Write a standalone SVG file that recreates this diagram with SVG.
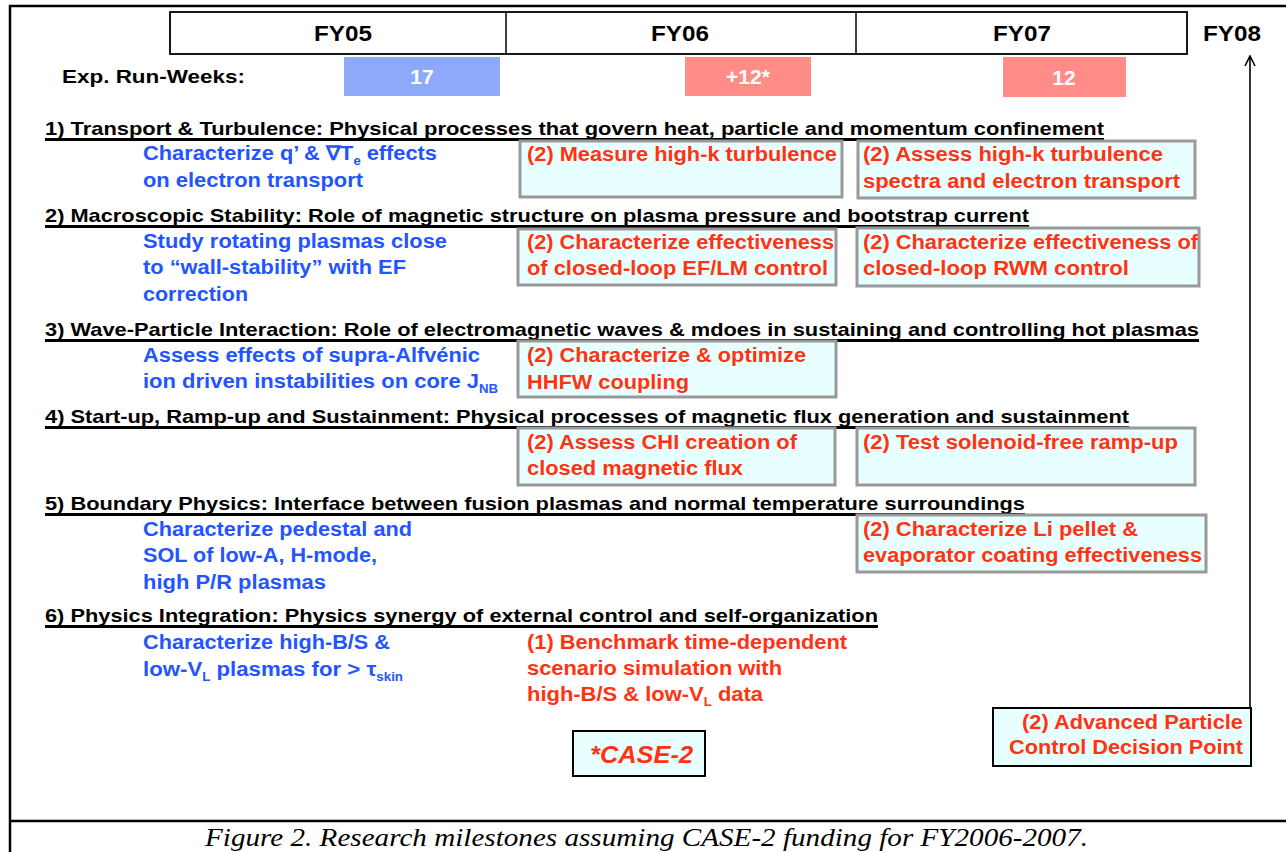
<svg xmlns="http://www.w3.org/2000/svg" width="1286" height="852" viewBox="0 0 1286 852">
<style>
text{font-family:"Liberation Sans",Arial,sans-serif;font-weight:bold}
.hd{font-size:19px;fill:#000}
.bl{font-size:20px;fill:#2255ff}
.rd{font-size:20px;fill:#ff3311}
.ul{stroke:#000;stroke-width:3}
.mb{fill:#e8ffff;stroke:#999;stroke-width:3}
.kb{fill:#e8ffff;stroke:#000;stroke-width:2}
.sub{font-size:12px}
.fy{font-size:22px;fill:#000}
</style>
<defs>
<marker id="arr" viewBox="0 0 12 12" refX="11" refY="6" markerWidth="12" markerHeight="12" markerUnits="userSpaceOnUse" orient="auto">
<path d="M1,1 L11,6 L1,11" fill="none" stroke="#000" stroke-width="1.6"/>
</marker>
</defs>
<rect width="1286" height="852" fill="#fff"/>
<g id="frame" stroke="#000" stroke-width="2.5" fill="none">
<path d="M10,852 V6 H1286"/>
<path d="M10,821 H1286"/>
</g>
<g id="timeline">
<rect x="170" y="12" width="1017" height="42" fill="#fff" stroke="#000" stroke-width="1.8"/>
<line x1="506" y1="12" x2="506" y2="54" stroke="#000" stroke-width="1.5"/>
<line x1="856" y1="12" x2="856" y2="54" stroke="#000" stroke-width="1.5"/>
<text class="fy" x="314" y="41" textLength="58" lengthAdjust="spacingAndGlyphs">FY05</text>
<text class="fy" x="651" y="41" textLength="58" lengthAdjust="spacingAndGlyphs">FY06</text>
<text class="fy" x="993" y="41" textLength="58" lengthAdjust="spacingAndGlyphs">FY07</text>
<text class="fy" x="1203" y="41" textLength="58" lengthAdjust="spacingAndGlyphs">FY08</text>
</g>
<g id="runweeks">
<text x="62" y="83" font-size="19" textLength="183" lengthAdjust="spacingAndGlyphs">Exp. Run-Weeks:</text>
<rect x="344" y="57" width="156" height="39" fill="#8fa9fa"/>
<text x="422" y="84" font-size="21" fill="#fff" text-anchor="middle">17</text>
<rect x="685" y="57" width="126" height="39" fill="#ff8c86"/>
<text x="748" y="84" font-size="21" fill="#fff" text-anchor="middle">+12*</text>
<rect x="1003" y="57" width="123" height="40" fill="#ff8c86"/>
<text x="1064" y="85" font-size="21" fill="#fff" text-anchor="middle">12</text>
</g>
<g id="headers">
<text class="hd" x="45" y="135" textLength="1059" lengthAdjust="spacingAndGlyphs">1) Transport &amp; Turbulence: Physical processes that govern heat, particle and momentum confinement</text>
<line class="ul" x1="45" y1="139.5" x2="1104" y2="139.5"/>
<text class="hd" x="45" y="222" textLength="984" lengthAdjust="spacingAndGlyphs">2) Macroscopic Stability: Role of magnetic structure on plasma pressure and bootstrap current</text>
<line class="ul" x1="45" y1="226.5" x2="1029" y2="226.5"/>
<text class="hd" x="45" y="336" textLength="1154" lengthAdjust="spacingAndGlyphs">3) Wave-Particle Interaction: Role of electromagnetic waves &amp; mdoes in sustaining and controlling hot plasmas</text>
<line class="ul" x1="45" y1="340.5" x2="1199" y2="340.5"/>
<text class="hd" x="45" y="423" textLength="1084" lengthAdjust="spacingAndGlyphs">4) Start-up, Ramp-up and Sustainment: Physical processes of magnetic flux generation and sustainment</text>
<line class="ul" x1="45" y1="427.5" x2="1129" y2="427.5"/>
<text class="hd" x="45" y="510" textLength="980" lengthAdjust="spacingAndGlyphs">5) Boundary Physics: Interface between fusion plasmas and normal temperature surroundings</text>
<line class="ul" x1="45" y1="514.5" x2="1025" y2="514.5"/>
<text class="hd" x="45" y="622" textLength="833" lengthAdjust="spacingAndGlyphs">6) Physics Integration: Physics synergy of external control and self-organization</text>
<line class="ul" x1="45" y1="626.5" x2="878" y2="626.5"/>
</g>
<g id="fy05-items">
<text class="bl" x="143" y="160" textLength="294" lengthAdjust="spacingAndGlyphs">Characterize q’ &amp; ∇T<tspan class="sub" dy="5">e</tspan><tspan dy="-5"> effects</tspan></text>
<text class="bl" x="143" y="187" textLength="220" lengthAdjust="spacingAndGlyphs">on electron transport</text>
<text class="bl" x="143" y="248" textLength="304" lengthAdjust="spacingAndGlyphs">Study rotating plasmas close</text>
<text class="bl" x="143" y="274" textLength="263" lengthAdjust="spacingAndGlyphs">to “wall-stability” with EF</text>
<text class="bl" x="143" y="301" textLength="105" lengthAdjust="spacingAndGlyphs">correction</text>
<text class="bl" x="143" y="362" textLength="337" lengthAdjust="spacingAndGlyphs">Assess effects of supra-Alfvénic</text>
<text class="bl" x="143" y="388" textLength="355" lengthAdjust="spacingAndGlyphs">ion driven instabilities on core J<tspan class="sub" dy="5">NB</tspan></text>
<text class="bl" x="143" y="536" textLength="269" lengthAdjust="spacingAndGlyphs">Characterize pedestal and</text>
<text class="bl" x="143" y="562" textLength="234" lengthAdjust="spacingAndGlyphs">SOL of low-A, H-mode,</text>
<text class="bl" x="143" y="589" textLength="183" lengthAdjust="spacingAndGlyphs">high P/R plasmas</text>
<text class="bl" x="143" y="649" textLength="247" lengthAdjust="spacingAndGlyphs">Characterize high-B/S &amp;</text>
<text class="bl" x="143" y="676" textLength="260" lengthAdjust="spacingAndGlyphs">low-V<tspan class="sub" dy="5">L</tspan><tspan dy="-5"> plasmas for &gt; τ</tspan><tspan class="sub" dy="5">skin</tspan></text>
</g>
<g id="m1a">
<rect class="mb" x="520" y="141" width="322" height="56"/>
<text class="rd" x="527" y="161" textLength="310" lengthAdjust="spacingAndGlyphs">(2) Measure high-k turbulence</text>
</g>
<g id="m1b">
<rect class="mb" x="858" y="141" width="337" height="57"/>
<text class="rd" x="863" y="161" textLength="300" lengthAdjust="spacingAndGlyphs">(2) Assess high-k turbulence</text>
<text class="rd" x="863" y="188" textLength="317" lengthAdjust="spacingAndGlyphs">spectra and electron transport</text>
</g>
<g id="m2a">
<rect class="mb" x="518" y="229" width="318" height="56"/>
<text class="rd" x="527" y="249" textLength="307" lengthAdjust="spacingAndGlyphs">(2) Characterize effectiveness</text>
<text class="rd" x="527" y="275" textLength="301" lengthAdjust="spacingAndGlyphs">of closed-loop EF/LM control</text>
</g>
<g id="m2b">
<rect class="mb" x="857" y="228" width="342" height="58"/>
<text class="rd" x="863" y="249" textLength="335" lengthAdjust="spacingAndGlyphs">(2) Characterize effectiveness of</text>
<text class="rd" x="863" y="275" textLength="266" lengthAdjust="spacingAndGlyphs">closed-loop RWM control</text>
</g>
<g id="m3">
<rect class="mb" x="518" y="341" width="318" height="56"/>
<text class="rd" x="527" y="362" textLength="279" lengthAdjust="spacingAndGlyphs">(2) Characterize &amp; optimize</text>
<text class="rd" x="527" y="389" textLength="162" lengthAdjust="spacingAndGlyphs">HHFW coupling</text>
</g>
<g id="m4a">
<rect class="mb" x="518" y="428" width="317" height="57"/>
<text class="rd" x="527" y="449" textLength="270" lengthAdjust="spacingAndGlyphs">(2) Assess CHI creation of</text>
<text class="rd" x="527" y="475" textLength="216" lengthAdjust="spacingAndGlyphs">closed magnetic flux</text>
</g>
<g id="m4b">
<rect class="mb" x="857" y="428" width="338" height="57"/>
<text class="rd" x="863" y="449" textLength="315" lengthAdjust="spacingAndGlyphs">(2) Test solenoid-free ramp-up</text>
</g>
<g id="m5">
<rect class="mb" x="857" y="515" width="349" height="57"/>
<text class="rd" x="863" y="536" textLength="275" lengthAdjust="spacingAndGlyphs">(2) Characterize Li pellet &amp;</text>
<text class="rd" x="863" y="562" textLength="339" lengthAdjust="spacingAndGlyphs">evaporator coating effectiveness</text>
</g>
<g id="m6">
<text class="rd" x="527" y="649" textLength="320" lengthAdjust="spacingAndGlyphs">(1) Benchmark time-dependent</text>
<text class="rd" x="527" y="675" textLength="255" lengthAdjust="spacingAndGlyphs">scenario simulation with</text>
<text class="rd" x="527" y="701" textLength="236" lengthAdjust="spacingAndGlyphs">high-B/S &amp; low-V<tspan class="sub" dy="5">L</tspan><tspan dy="-5"> data</tspan></text>
</g>
<g id="case2">
<rect class="kb" x="573" y="731" width="132" height="45"/>
<text x="590" y="763" font-size="24" font-style="italic" fill="#ff3311" textLength="103" lengthAdjust="spacingAndGlyphs">*CASE-2</text>
</g>
<g id="decision">
<rect class="kb" x="993" y="708" width="258" height="58"/>
<text class="rd" x="1022" y="729" textLength="221" lengthAdjust="spacingAndGlyphs">(2) Advanced Particle</text>
<text class="rd" x="1009" y="754" textLength="234" lengthAdjust="spacingAndGlyphs">Control Decision Point</text>
</g>
<g id="connectors">
<line x1="1250" y1="708" x2="1250" y2="56" stroke="#000" stroke-width="1.6" marker-end="url(#arr)"/>
</g>
<text x="205" y="846" font-size="26" font-style="italic" textLength="883" lengthAdjust="spacingAndGlyphs" style="font-family:'Liberation Serif','Times New Roman',serif;font-weight:normal">Figure 2. Research milestones assuming CASE-2 funding for FY2006-2007.</text>
</svg>
